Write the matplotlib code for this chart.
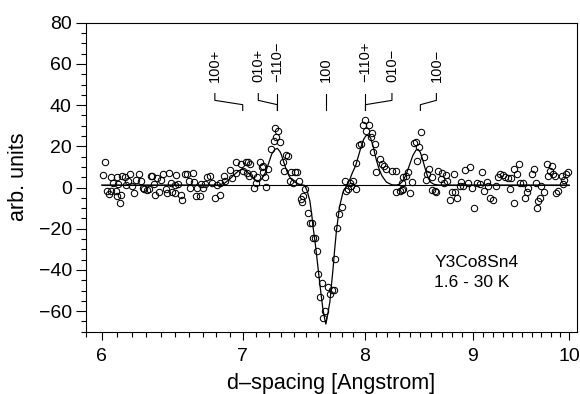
import matplotlib
matplotlib.use("Agg")
import matplotlib.pyplot as plt
from matplotlib.ticker import FixedLocator, FixedFormatter, MultipleLocator, NullFormatter

plt.rcParams['font.family'] = ['Liberation Sans', 'DejaVu Sans']

# ---- observed data (d-spacing, intensity) ----
obs_d = [6.006, 6.019, 6.033, 6.048, 6.059, 6.061, 6.076, 6.092, 6.098, 6.098, 6.111, 6.120, 6.131, 6.138,
         6.153, 6.164, 6.175, 6.186, 6.204, 6.213, 6.230, 6.248, 6.264, 6.275, 6.287, 6.303, 6.316, 6.332,
         6.339, 6.350, 6.361, 6.377, 6.389, 6.400, 6.416, 6.439, 6.446, 6.458, 6.470, 6.477, 6.500, 6.504,
         6.511, 6.523, 6.540, 6.551, 6.575, 6.589, 6.598, 6.610, 6.630, 6.634, 6.651, 6.658, 6.683, 6.690,
         6.700, 6.719, 6.732, 6.757, 6.769, 6.789, 6.807, 6.826, 6.831, 6.857, 6.869, 6.900, 6.915, 6.946,
         6.946, 6.985, 7.004, 7.022, 7.035, 7.040, 7.050, 7.056, 7.080, 7.090, 7.100, 7.110, 7.133, 7.150,
         7.155, 7.160, 7.170, 7.180, 7.196, 7.220, 7.240, 7.250, 7.260, 7.275, 7.290, 7.316, 7.325, 7.340,
         7.353, 7.370, 7.383, 7.397, 7.410, 7.430, 7.440, 7.460, 7.470, 7.480, 7.490, 7.520, 7.533, 7.547,
         7.560, 7.574, 7.588, 7.600, 7.616, 7.630, 7.644, 7.658, 7.686, 7.700, 7.720, 7.733, 7.743, 7.760,
         7.780, 7.800, 7.830, 7.835, 7.850, 7.870, 7.880, 7.900, 7.920, 7.920, 7.950, 7.970, 7.985, 8.000,
         8.010, 8.040, 8.050, 8.060, 8.070, 8.090, 8.100, 8.133, 8.150, 8.170, 8.190, 8.240, 8.280, 8.280,
         8.310, 8.330, 8.330, 8.340, 8.340, 8.370, 8.390, 8.400, 8.420, 8.445, 8.460, 8.470, 8.490, 8.510,
         8.530, 8.550, 8.560, 8.580, 8.610, 8.610, 8.640, 8.650, 8.670, 8.690, 8.700, 8.720, 8.740, 8.750,
         8.780, 8.800, 8.820, 8.830, 8.850, 8.876, 8.890, 8.910, 8.920, 8.955, 8.970, 8.990, 9.010, 9.040,
         9.070, 9.090, 9.110, 9.140, 9.150, 9.170, 9.200, 9.230, 9.250, 9.270, 9.300, 9.320, 9.350, 9.370,
         9.390, 9.420, 9.420, 9.450, 9.470, 9.480, 9.510, 9.530, 9.550, 9.560, 9.600, 9.620, 9.640, 9.655,
         9.670, 9.690, 9.700, 9.730, 9.760, 9.770, 9.790, 9.810, 9.830, 9.850, 9.860, 9.880, 9.920, 9.935,
         9.950, 9.970, 9.990]
obs_y = [6.0, 12.5, -1.6, -3.2, -1.6, 4.9, 2.1, -1.6, 4.9, -4.0, 1.6, -7.3, -3.6, 5.7,
         4.9, 1.2, 3.3, 6.5, 0.5, -2.9, 3.8, 6.5, 3.3, -0.3, -0.8, -1.1, -0.8, 5.4,
         5.4, 1.6, -3.7, 4.6, -2.4, 3.6, 6.5, -0.5, -2.9, 7.0, 2.1, -2.4, 1.2, -2.7,
         6.2, 1.6, -3.6, -6.2, 6.5, 6.5, 3.3, -0.3, 7.0, 2.5, -4.0, 0.0, -4.0, 1.6,
         0.0, 1.6, 4.9, 5.4, 2.1, -5.2, 1.2, -3.6, 2.1, 5.7, 3.3, 8.6, 4.6, 12.5,
         6.8, 11.6, 8.0, 12.4, 7.0, 12.2, 5.7, 11.4, 6.5, -0.3, 2.4, 4.9, 12.2, 9.8,
         7.3, 10.6, 4.9, 0.3, 9.0, 18.7, 22.4, 28.9, 24.4, 27.3, 22.3, 12.2, 8.1, 15.9,
         15.5, 3.3, 7.3, 2.4, 7.3, 7.3, 3.3, -5.6, -6.8, -4.0, -0.7, -12.2, -17.0, -17.0,
         -24.7, -24.7, -30.6, -41.9, -53.3, -46.6, -63.4, -59.8, -48.4, -51.7, -49.6, -49.6, -34.6, -19.9,
         -13.0, -9.3, 3.3, -1.6, -0.5, 2.0, 0.8, 3.0, -0.8, 11.7, 20.7, 21.2, 30.1, 32.9,
         27.2, 30.4, 24.4, 26.4, 17.0, 21.1, 7.7, 13.8, 11.4, 10.6, 9.0, 7.8, 7.8, -2.4,
         -1.6, 2.4, -1.3, 5.2, -0.8, 5.7, 7.3, -2.9, 2.9, 21.4, 22.0, 12.7, 19.5, 26.8,
         15.0, 3.6, 6.5, 8.9, 4.9, -1.3, -1.9, -2.4, 7.8, 4.1, 7.0, 2.0, 6.0, 3.3,
         -6.1, -2.4, 6.5, -2.4, -5.2, 0.8, 2.9, 0.8, 8.6, 2.4, 10.1, 0.0, -9.8, 2.4,
         1.6, 7.6, -1.6, 2.9, 0.8, -4.9, -6.1, 0.8, 5.2, 6.5, 6.0, 5.2, 4.6, -0.8,
         4.6, -7.3, 8.9, 6.5, 11.4, 2.4, 2.4, -4.9, -2.4, 0.0, 6.5, 8.9, 2.4, -9.8,
         -6.5, -4.9, 0.8, -2.4, 11.4, 5.7, 7.8, 10.6, 6.5, 5.7, -2.9, -1.6, 5.7, 1.6,
         3.6, 6.5, 7.3]

# ---- fitted curve ----
fit_d = [6.00, 6.82, 6.86, 6.90, 6.94, 6.97, 7.00, 7.03, 7.06, 7.09, 7.11, 7.13, 7.15, 7.17, 7.185,
         7.205, 7.225, 7.25, 7.27, 7.29, 7.30, 7.32, 7.34, 7.36, 7.38, 7.41, 7.44, 7.49, 7.51, 7.533,
         7.55, 7.56, 7.575, 7.588, 7.61, 7.625, 7.64, 7.655, 7.666, 7.68, 7.70, 7.715, 7.727, 7.74,
         7.755, 7.78, 7.81, 7.84, 7.87, 7.89, 7.92, 7.95, 7.97, 7.99, 8.01, 8.03, 8.05, 8.07, 8.085,
         8.10, 8.125, 8.15, 8.19, 8.24, 8.28, 8.31, 8.34, 8.37, 8.40, 8.43, 8.46, 8.48, 8.50, 8.52,
         8.54, 8.56, 8.58, 8.60, 8.63, 8.67, 10.0]
fit_y = [1.2, 1.2, 2.0, 4.0, 6.5, 8.2, 8.8, 8.0, 6.0, 3.8, 2.8, 3.0, 4.5, 6.5, 8.9,
         12.5, 16.2, 18.5, 19.0, 17.5, 16.2, 12.5, 8.9, 6.0, 4.1, 2.6, 1.7, 1.0, -1.5, -6.5,
         -14.0, -19.5, -26.0, -32.5, -44.0, -51.5, -58.5, -63.5, -66.3, -62.0, -55.3, -46.0, -39.0, -30.0,
         -21.0, -9.7, -2.4, 0.8, 4.0, 7.0, 10.7, 16.5, 20.4, 23.5, 25.2, 25.3, 24.0, 20.5, 17.0,
         13.5, 9.0, 5.7, 2.6, 1.3, 1.2, 1.6, 3.2, 6.5, 11.0, 15.5, 18.2, 18.5, 17.0, 13.8,
         10.0, 6.5, 3.9, 2.4, 1.5, 1.2, 1.2]
baseline = 1.2

# ---- reflection labels ----
refl_labels = ["100+", "010+", "\u2212110\u2212", "100", "\u2212110+", "010\u2212", "100\u2212"]
refl_label_d = [6.79, 7.12, 7.27, 7.665, 8.005, 8.24, 8.65]
refl_peak_d = [7.00, 7.27, 7.27, 7.665, 8.005, 8.005, 8.50]

xticks = [6, 7, 8, 9, 10]
xticklabels = ["6", "7", "8", "9", "10"]

W, H = 580, 394
fig = plt.figure(figsize=(W / 100, H / 100), dpi=100)
L, R, T, B = 86, 577, 22.7, 331.7
ax = fig.add_axes([L / W, 1 - B / H, (R - L) / W, (B - T) / H])

ax.set_xscale('log')
ax.set_xlim(5.898, 10.087)
ax.set_ylim(-70, 80)

ax.plot([6.0, 10.0], [baseline, baseline], color='black', lw=0.8, zorder=2)
ax.plot(fit_d, fit_y, color='black', lw=0.9, zorder=3)
ax.plot(obs_d, obs_y, linestyle='none', marker='o', ms=4.6, mfc='none', mec='black', mew=0.75, zorder=4)

# labels with brackets
for lab, dl, dp in zip(refl_labels, refl_label_d, refl_peak_d):
    ax.plot([dl, dl, dp, dp], [45.6, 42.3, 40.2, 37.4], color='black', lw=0.8)
    ax.text(dl, 51.0, lab, rotation=90, ha='center', va='bottom', fontsize=10.5)

ax.text(0.709, 0.2084, "Y3Co8Sn4", transform=ax.transAxes, fontsize=12.5, va='baseline', ha='left')
ax.text(0.709, 0.1437, "1.6 - 30 K", transform=ax.transAxes, fontsize=12.5, va='baseline', ha='left')

ax.xaxis.set_major_locator(FixedLocator(xticks))
ax.xaxis.set_major_formatter(FixedFormatter(xticklabels))
ax.xaxis.set_minor_locator(MultipleLocator(0.1))
ax.xaxis.set_minor_formatter(NullFormatter())
ax.yaxis.set_major_locator(MultipleLocator(20))
ax.yaxis.set_minor_locator(MultipleLocator(5))

for s in ax.spines.values():
    s.set_linewidth(0.8)

ax.tick_params(axis='x', which='major', direction='out', length=5.5, width=0.8, labelsize=14, pad=6.5)
ax.tick_params(axis='x', which='minor', direction='out', length=3.6, width=0.8)
ax.tick_params(axis='y', which='major', direction='out', length=7.2, width=0.8, labelsize=14, pad=3)
ax.tick_params(axis='y', which='minor', direction='out', length=3.6, width=0.8)
ax.tick_params(top=False, right=False, which='both')

fig.text(0.5 * (L + R) / W, 1 - 389.0 / H, "d\u2013spacing [Angstrom]", ha='center', va='baseline', fontsize=15.5)
fig.text(8 / W, 1 - 0.5 * (T + B) / H, "arb. units", rotation=90, ha='left', va='center', fontsize=15.5)

fig.savefig("out.png", dpi=100)
